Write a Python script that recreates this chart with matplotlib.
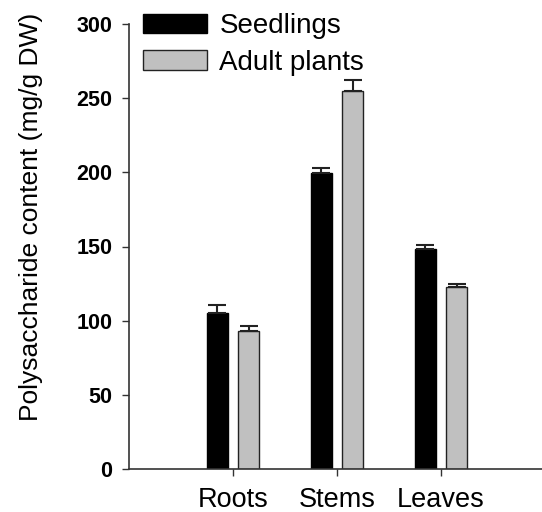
import matplotlib
matplotlib.use("Agg")
import matplotlib.pyplot as plt
import numpy as np

plt.rcParams['font.family'] = ['Liberation Sans', 'DejaVu Sans']

categories = ["Roots", "Stems", "Leaves"]
seedlings = [105, 199.5, 148.5]
seedlings_err = [5.5, 3.5, 2.5]
adult = [93, 255, 123]
adult_err = [3.5, 7, 1.5]

fig = plt.figure(figsize=(5.42, 5.12), dpi=100)
ax = fig.add_axes([129 / 542, 1 - 469 / 512, 413 / 542, 445 / 512])

x = np.arange(1, len(categories) + 1)
w = 0.2
ax.bar(x - 0.15, seedlings, w, color="black", edgecolor="black", linewidth=1,
       yerr=[np.zeros(3), seedlings_err], capsize=6.5,
       error_kw=dict(elinewidth=1.5, capthick=1.5, ecolor="#222222"), label="Seedlings")
ax.bar(x + 0.15, adult, w, color="#c0c0c0", edgecolor="#222222", linewidth=1,
       yerr=[np.zeros(3), adult_err], capsize=6.5,
       error_kw=dict(elinewidth=1.5, capthick=1.5, ecolor="#222222"), label="Adult plants")

ax.set_xlim(0, 3.97)
ax.set_ylim(0, 300)

ax.spines["top"].set_visible(False)
ax.spines["right"].set_visible(False)
ax.spines["left"].set_linewidth(1.2)
ax.spines["bottom"].set_linewidth(1.2)
ax.spines["left"].set_color("#333333")
ax.spines["bottom"].set_color("#333333")
ax.tick_params(axis="y", direction="out", length=5, width=1, pad=7, color="#333333")
ax.tick_params(axis="x", direction="out", length=5, width=1, pad=8, color="#333333")

yt = list(range(0, 301, 50))
ax.set_yticks(yt, labels=[str(v) for v in yt], fontsize=15.5, fontweight="bold")
ax.set_xticks(x, labels=categories, fontsize=19.5)

ax.set_ylabel("Polysaccharide content (mg/g DW)", fontsize=19)
ax.yaxis.set_label_coords(-0.208, 0.566)

fig.legend(loc="upper left", bbox_to_anchor=(143 / 542, 1 - 13 / 512), frameon=False,
           fontsize=20, handlelength=2.3, handleheight=0.7, handletextpad=0.45,
           labelspacing=0.38, borderpad=0, borderaxespad=0)

fig.savefig("out.png", dpi=100)
